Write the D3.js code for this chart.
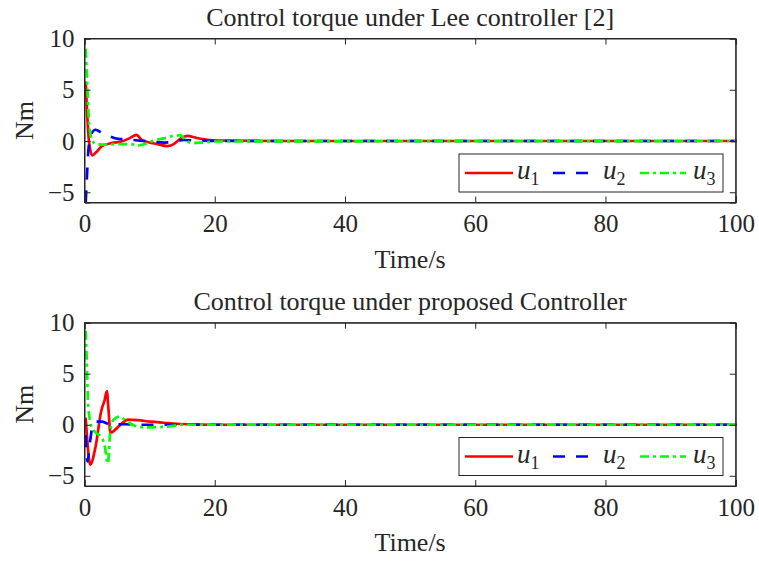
<!DOCTYPE html>
<html>
<head>
<meta charset="utf-8">
<script src="https://cdn.jsdelivr.net/npm/d3@7"></script>
<style>
  html, body { margin: 0; padding: 0; background: #fff; }
  svg { display: block; }
  text { font-family: "Liberation Serif", "Times New Roman", serif; fill: #262626; }
</style>
</head>
<body>
<svg id="chart" width="759" height="569"></svg>
<script>
// Axis setup shared by both panels
const xTicks = [0, 20, 40, 60, 80, 100];
const yTicks = [-5, 0, 5, 10];
const xDomain = [0, 100];
const yDomain = [-6, 10];
const seriesNames = ["u1", "u2", "u3"];

// Lee controller: control torque components (time in s, torque in Nm)
const leeU1T = [0, 0.2, 0.5, 1.0, 1.6, 2.5, 4, 5.5, 6.8, 7.8, 8.6, 9.5, 11, 12.5, 13.5, 14.5, 15.6, 17, 19, 22, 30, 100];
const leeU1 = [5.8, 3.0, 0.0, -1.4, -1.1, -0.5, -0.2, -0.05, 0.3, 0.6, 0.1, -0.1, -0.3, -0.5, -0.3, 0.2, 0.5, 0.3, 0.1, 0.03, 0, 0];
const leeU2T = [0, 0.15, 0.4, 0.8, 1.5, 2.5, 3.5, 5, 6.5, 8, 10, 12, 13.5, 15, 17, 20, 100];
const leeU2 = [-6, -4, -1.0, 0.6, 1.1, 0.8, 0.5, 0.2, 0.15, 0.05, -0.05, -0.15, -0.1, 0.1, 0.05, 0, 0];
const leeU3T = [0, 0.2, 0.5, 1.0, 1.6, 3, 5, 7, 8, 9, 10.5, 12, 13.5, 14.5, 15.5, 16.5, 18, 20, 100];
const leeU3 = [9.0, 6.0, 2.0, 0.0, -0.3, -0.35, -0.3, -0.3, -0.45, -0.3, 0.05, 0.25, 0.5, 0.55, 0.0, -0.2, -0.15, -0.05, 0];

// Proposed controller: control torque components
const propU1T = [0, 0.3, 0.7, 1.5, 2.4, 2.9, 3.25, 3.5, 3.8, 4.5, 5.5, 6.5, 8, 10, 12, 14, 17, 20, 100];
const propU1 = [0.7, -2.0, -3.9, -2.2, 1.4, 2.4, 3.3, 1.5, -0.8, -0.5, 0.1, 0.5, 0.45, 0.3, 0.2, 0.1, 0.03, 0, 0];
const propU2T = [0, 0.1, 0.3, 0.6, 1.0, 1.5, 2.5, 3.2, 4, 5, 6, 8, 10, 100];
const propU2 = [-1.0, -2.5, -3.6, -2.0, -0.3, 0.3, 0.3, 0.15, -0.1, 0.05, 0.05, 0, 0, 0];
const propU3T = [0, 0.15, 0.35, 0.6, 1.0, 1.6, 2.4, 2.9, 3.4, 3.8, 4.3, 5.2, 6.2, 7.5, 9, 12, 15, 100];
const propU3 = [9.2, 6.5, 2.4, 0.6, -0.3, -0.8, -1.2, -2.0, -3.8, -0.5, 0.5, 0.8, 0.4, -0.1, -0.25, -0.2, 0, 0];

const styles = {
  u1: { color: "#ff0000", dash: null },
  u2: { color: "#0000ff", dash: "12,11" },
  u3: { color: "#00ff00", dash: "9,4,3,4" }
};

const panels = [
  {
    title: "Control torque under Lee controller [2]",
    top: 38.5, bottom: 202.5,
    series: [
      { name: "u1", t: leeU1T, v: leeU1 },
      { name: "u2", t: leeU2T, v: leeU2 },
      { name: "u3", t: leeU3T, v: leeU3 }
    ]
  },
  {
    title: "Control torque under proposed Controller",
    top: 322.7, bottom: 486,
    series: [
      { name: "u1", t: propU1T, v: propU1 },
      { name: "u2", t: propU2T, v: propU2 },
      { name: "u3", t: propU3T, v: propU3 }
    ]
  }
];

const left = 84.5, right = 735.7;
const svg = d3.select("#chart");
const axisColor = "#262626";
const fontSize = 25;

panels.forEach((p, i) => {
  const x = d3.scaleLinear().domain(xDomain).range([left, right]);
  const y = d3.scaleLinear().domain(yDomain).range([p.bottom, p.top]);
  const g = svg.append("g");

  // clip region for the plotted curves (slightly padded so edge strokes stay visible)
  const clipId = "clip" + i;
  svg.append("clipPath").attr("id", clipId)
    .append("rect").attr("x", left - 1.5).attr("y", p.top - 1.5)
    .attr("width", right - left + 3).attr("height", p.bottom - p.top + 3);

  // curves
  const line = d3.line().x(d => x(d[0]) + 1.2).y(d => y(d[1])).curve(d3.curveMonotoneX);
  const curves = g.append("g").attr("clip-path", `url(#${clipId})`);
  p.series.forEach(s => {
    const pts = s.t.map((t, k) => [t, s.v[k]]);
    const st = styles[s.name];
    curves.append("path")
      .attr("d", line(pts))
      .attr("fill", "none")
      .attr("stroke", st.color)
      .attr("stroke-width", 2.7)
      .attr("stroke-dasharray", st.dash)
      .attr("stroke-linejoin", "round");
  });

  // axes: ticks pointing inward on all four sides
  const tickLen = 6;
  const xb = g.append("g").attr("transform", `translate(0,${p.bottom})`)
    .call(d3.axisBottom(x).tickValues(xTicks).tickSize(-tickLen).tickPadding(12));
  const xt = g.append("g").attr("transform", `translate(0,${p.top})`)
    .call(d3.axisTop(x).tickValues(xTicks).tickSize(-tickLen).tickFormat(""));
  const yl = g.append("g").attr("transform", `translate(${left},0)`)
    .call(d3.axisLeft(y).tickValues(yTicks).tickSize(-tickLen).tickPadding(10));
  const yr = g.append("g").attr("transform", `translate(${right},0)`)
    .call(d3.axisRight(y).tickValues(yTicks).tickSize(-tickLen).tickFormat(""));
  [xb, xt, yl, yr].forEach(a => {
    a.select(".domain").attr("stroke", axisColor).attr("stroke-width", 1);
    a.selectAll(".tick line").attr("stroke", axisColor).attr("stroke-width", 1);
    a.selectAll(".tick text")
      .attr("font-family", "Liberation Serif, serif")
      .attr("font-size", fontSize)
      .attr("fill", axisColor);
  });
  // box frame
  g.append("rect").attr("x", left).attr("y", p.top)
    .attr("width", right - left).attr("height", p.bottom - p.top)
    .attr("fill", "none").attr("stroke", axisColor).attr("stroke-width", 1);

  // title
  g.append("text")
    .attr("x", (left + right) / 2).attr("y", p.top - 13)
    .attr("text-anchor", "middle").attr("font-size", 26)
    .text(p.title);

  // axis labels
  g.append("text")
    .attr("x", (left + right) / 2).attr("y", p.bottom + 65)
    .attr("text-anchor", "middle").attr("font-size", 26)
    .text("Time/s");
  g.append("text")
    .attr("transform", `translate(33,${(p.top + p.bottom) / 2}) rotate(-90)`)
    .attr("text-anchor", "middle").attr("font-size", 26)
    .text("Nm");

  // legend
  const lx = 459, ly = p.bottom - 48.5, lw = 264, lh = 38;
  const lg = g.append("g");
  lg.append("rect").attr("x", lx).attr("y", ly).attr("width", lw).attr("height", lh)
    .attr("fill", "#fff").attr("stroke", axisColor).attr("stroke-width", 1);
  const items = [
    { name: "u1", x0: 6, x1: 54, tx: 58, sub: "1" },
    { name: "u2", x0: 94, x1: 129, tx: 144, sub: "2" },
    { name: "u3", x0: 181, x1: 227, tx: 234, sub: "3" }
  ];
  const cy = ly + lh / 2;
  items.forEach(it => {
    const st = styles[it.name];
    lg.append("line").attr("x1", lx + it.x0).attr("x2", lx + it.x1)
      .attr("y1", cy).attr("y2", cy)
      .attr("stroke", st.color).attr("stroke-width", 2.7)
      .attr("stroke-dasharray", st.dash);
    const t = lg.append("text").attr("x", lx + it.tx).attr("y", cy + 6)
      .attr("font-size", 27);
    t.append("tspan").attr("font-style", "italic").text("u");
    t.append("tspan").attr("font-size", 18).attr("dy", 6).text(it.sub);
  });
});
</script>
</body>
</html>
